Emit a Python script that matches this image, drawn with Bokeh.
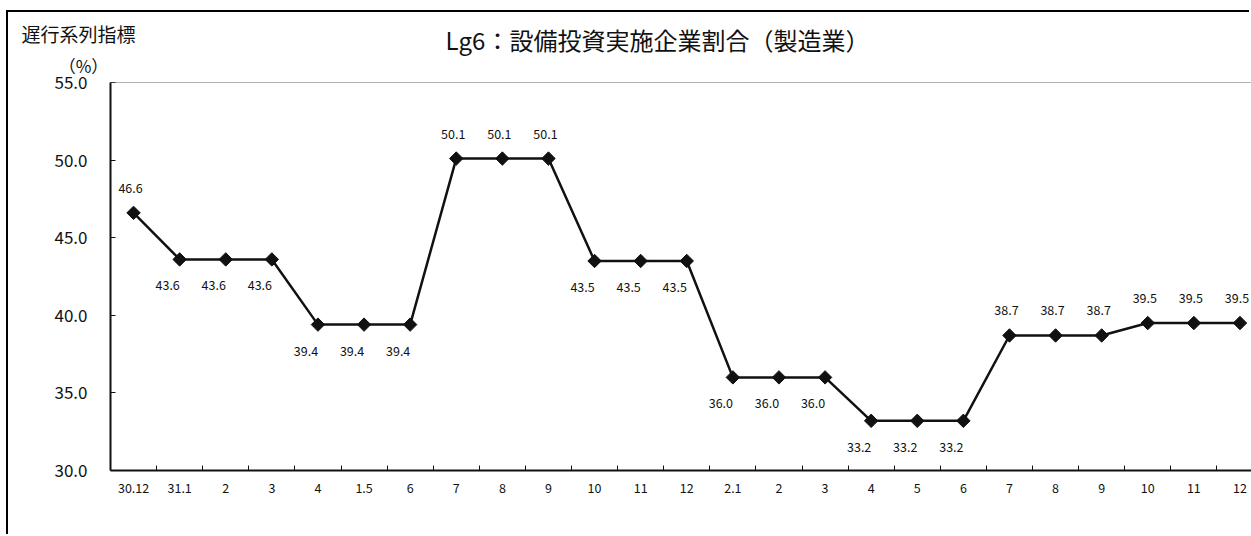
from bokeh.plotting import figure
from bokeh.models import (ColumnDataSource, FixedTicker, Range1d, Label, Span,
                          PrintfTickFormatter)
from bokeh.embed import file_html
from bokeh.resources import INLINE

# ---- data ----
categories = ["30.12", "31.1", "2", "3", "4", "1.5", "6", "7", "8", "9", "10", "11", "12",
              "2.1", "2", "3", "4", "5", "6", "7", "8", "9", "10", "11", "12"]
values = [46.6, 43.6, 43.6, 43.6, 39.4, 39.4, 39.4, 50.1, 50.1, 50.1, 43.5, 43.5, 43.5,
          36.0, 36.0, 36.0, 33.2, 33.2, 33.2, 38.7, 38.7, 38.7, 39.5, 39.5, 39.5]
label_side = ["above", "below", "below", "below", "below", "below", "below",
              "above", "above", "above", "below", "below", "below",
              "below", "below", "below", "below", "below", "below",
              "above", "above", "above", "above", "above", "above"]
y_ticks = [30, 35, 40, 45, 50, 55]
title_text = "Lg6：設備投資実施企業割合（製造業）"
ylabel_text = "遅行系列指標"
unit_text = "（%）"

FONT = "Noto Sans CJK JP"
INK = "#111111"

n = len(categories)
xs = list(range(n))
x_off = [-3 if s == "above" else -12 for s in label_side]
y_off = [-25 if s == "above" else 26 for s in label_side]
src = ColumnDataSource(dict(x=xs, y=values, lab=[f"{v:.1f}" for v in values],
                            xo=x_off, yo=y_off))

p = figure(width=1243, height=524, output_backend="svg", toolbar_location=None,
           title=None, x_range=Range1d(-0.5, n - 0.75), y_range=Range1d(30, 55),
           min_border_left=102, min_border_right=0, min_border_top=70, min_border_bottom=66,
           background_fill_color="white", border_fill_color="white",
           styles={"margin-left": "8px", "margin-top": "12px",
                   "box-shadow": "-2px -2px 0 0 #000"})
p.outline_line_color = None
p.grid.visible = False

# top frame line
p.add_layout(Span(location=55, dimension="width", line_color="#666666", line_width=1))

# y axis
ya = p.yaxis[0]
ya.ticker = FixedTicker(ticks=y_ticks)
ya.formatter = PrintfTickFormatter(format="%.1f")
ya.major_tick_in = 5
ya.major_tick_out = 0
ya.minor_tick_line_color = None
ya.axis_line_color = INK
ya.axis_line_width = 2
ya.major_tick_line_color = INK
ya.major_label_standoff = 23
ya.major_label_text_font = FONT
ya.major_label_text_font_size = "17px"
ya.major_label_text_color = INK

# x axis
xa = p.xaxis[0]
xa.ticker = FixedTicker(ticks=xs, minor_ticks=[i + 0.5 for i in range(n - 1)])
xa.major_label_overrides = {i: c for i, c in enumerate(categories)}
xa.major_tick_line_color = None
xa.minor_tick_in = 5
xa.minor_tick_out = 0
xa.minor_tick_line_color = INK
xa.axis_line_color = INK
xa.axis_line_width = 2
xa.major_label_standoff = 6
xa.major_label_text_font = FONT
xa.major_label_text_font_size = "12.5px"
xa.major_label_text_color = INK

# series
p.line("x", "y", source=src, line_color=INK, line_width=2.5)
p.scatter("x", "y", source=src, marker="square", angle=0.785398, size=9.5,
          fill_color=INK, line_color=INK)
p.text("x", "y", text="lab", source=src, x_offset="xo", y_offset="yo",
       text_align="center", text_baseline="middle", text_font_size="12.5px",
       text_color=INK, text_font={"value": FONT})

# header texts, placed in side panels (not clipped to the frame)
p.add_layout(Label(x=547, y=43, x_units="screen", y_units="screen", text=title_text,
                   text_align="center", text_baseline="middle", text_font=FONT,
                   text_font_size="24px", text_color=INK), "above")
p.add_layout(Label(x=-89, y=14, x_units="screen", y_units="screen", text=ylabel_text,
                   text_align="left", text_baseline="middle", text_font=FONT,
                   text_font_size="19px", text_color=INK), "above")
p.add_layout(Label(x=-27, y=455, x_units="screen", y_units="screen", text=unit_text,
                   text_align="center", text_baseline="middle", text_font=FONT,
                   text_font_size="17px", text_color=INK), "below")

open("out.html", "w").write(file_html(p, INLINE))
